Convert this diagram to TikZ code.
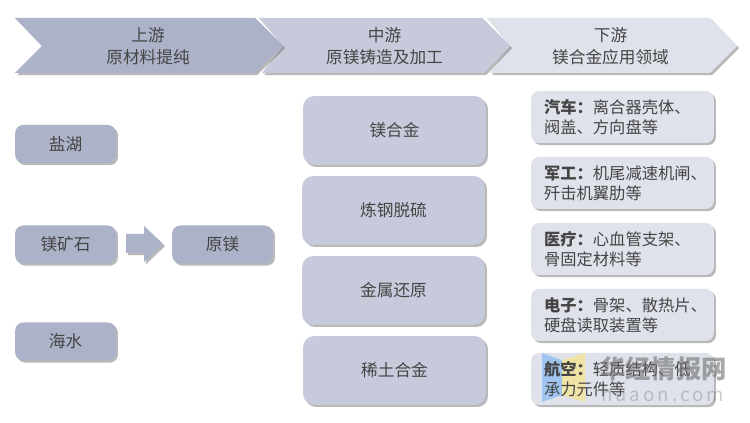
\documentclass[tikz,border=0pt]{standalone}
\usepackage{fontspec}
\setmainfont{Noto Sans CJK SC}
\usepackage{tikz}
\usetikzlibrary{shadows,positioning}
\definecolor{cA}{HTML}{ACB2C8}
\definecolor{cB}{HTML}{C6CADA}
\definecolor{cC}{HTML}{DFE2EB}
\definecolor{txt}{HTML}{454545}
\definecolor{logoB}{HTML}{A0C5F1}
\definecolor{logoY}{HTML}{EFE3A5}
\newcommand{\bigtxt}{\fontsize{12.5pt}{16.5pt}\selectfont\lineskiplimit=-20pt\relax}
\newcommand{\apptxt}{\fontsize{12.2pt}{15pt}\selectfont\lineskiplimit=-20pt\relax}
\newcommand{\pad}{\hspace*{9.75pt}}
\tikzset{
 x=0.75pt,y=-0.75pt,
 shad/.style={drop shadow={shadow xshift=1.6pt,shadow yshift=-1.6pt,fill=black!55,opacity=.5}},
 chev/.style={shad,draw=none},
 lab/.style={text=txt,font=\bigtxt,align=center,inner sep=0pt},
 rbox/.style={rounded corners=6pt,draw=none,shad,inner sep=0pt,text=txt,align=center,font=\bigtxt},
 srcbox/.style={rbox,fill=cA,minimum width=75.5pt,minimum height=28.5pt},
 midbox/.style={rbox,fill=cB,minimum width=137pt,minimum height=51.5pt,rounded corners=8pt},
 appbox/.style={rbox,fill=cC,text width=137pt,minimum height=39pt,align=left,font=\apptxt},
 apptext/.style={inner sep=0pt,text=txt,text width=137pt,align=left,font=\apptxt},
 wm/.style={text=black!55,opacity=.62,inner sep=0pt},
}
\begin{document}
\begin{tikzpicture}
\useasboundingbox (0,0) rectangle (750,423);
% chevrons (drawn last-first so that each tip overlays the next)
\fill[chev,fill=cC] (487,18)--(710,18)--(737,46)--(710,73)--(490,73)--(510,46)--cycle;
\fill[chev,fill=cB] (259,18)--(482,18)--(510,46)--(484,73)--(262,73)--(283,46)--cycle;
\fill[chev,fill=cA] (15,18)--(255,18)--(283,46)--(255,73)--(15,73)--(42,46)--cycle;
\node[lab] (up) at (148,46) {上游\\原材料提纯};
\node[lab] (mid) at (384.5,46) {中游\\原镁铸造及加工};
\node[lab] (down) at (610.5,46) {下游\\镁合金应用领域};
% source boxes
\node[srcbox] (yanhu) at (65.5,144) {盐湖};
\node[srcbox] (kuang) at (65.5,244.5) {镁矿石};
\node[srcbox] (haishui) at (65.5,341.5) {海水};
\node[srcbox] (yuanmei) at (222.5,244.5) {原镁};
\fill[chev,fill=cA] (126,234)--(144,234)--(144,226)--(163,244)--(144,262)--(144,253)--(126,253)--cycle;
% middle boxes
\node[midbox] (m1) at (394.5,130.5) {镁合金};
\node[midbox] (m2) at (393.5,210.5) {炼钢脱硫};
\node[midbox] (m3) at (393.5,290.5) {金属还原};
\node[midbox] (m4) at (394.5,370.5) {稀土合金};
% application boxes
\node[appbox] (a1) at (622.5,117) {\pad\textbf{汽车：}离合器壳体、\\\pad 阀盖、方向盘等};
\node[appbox] (a2) at (622.5,183) {\pad\textbf{军工：}机尾减速机闸、\\\pad 歼击机翼肋等};
\node[appbox] (a3) at (622.5,249) {\pad\textbf{医疗：}心血管支架、\\\pad 骨固定材料等};
\node[appbox] (a4) at (622.5,315) {\pad\textbf{电子：}骨架、散热片、\\\pad 硬盘读取装置等};
\node[appbox] (a5) at (622.5,379) {};
% watermark logo lies between the box and its text
\fill[logoB] (542,353)--(562,360)--(562,395)--(542,402)--cycle;
\fill[logoY] (562,360)--(585,353)--(585,402)--(562,395)--cycle;
\node[apptext] (a5text) at (a5.center) {\pad\textbf{航空：}轻质结构、低\\\pad 承力元件等};
\node[wm,font=\fontsize{19pt}{21pt}\selectfont\bfseries] (wm1) at (663.5,368.5) {华经情报网};
\node[wm,opacity=.35,font=\fontsize{14pt}{16pt}\selectfont\addfontfeature{LetterSpace=16}] (wm2) at (662.5,394) {huaon.com};
\end{tikzpicture}
\end{document}
